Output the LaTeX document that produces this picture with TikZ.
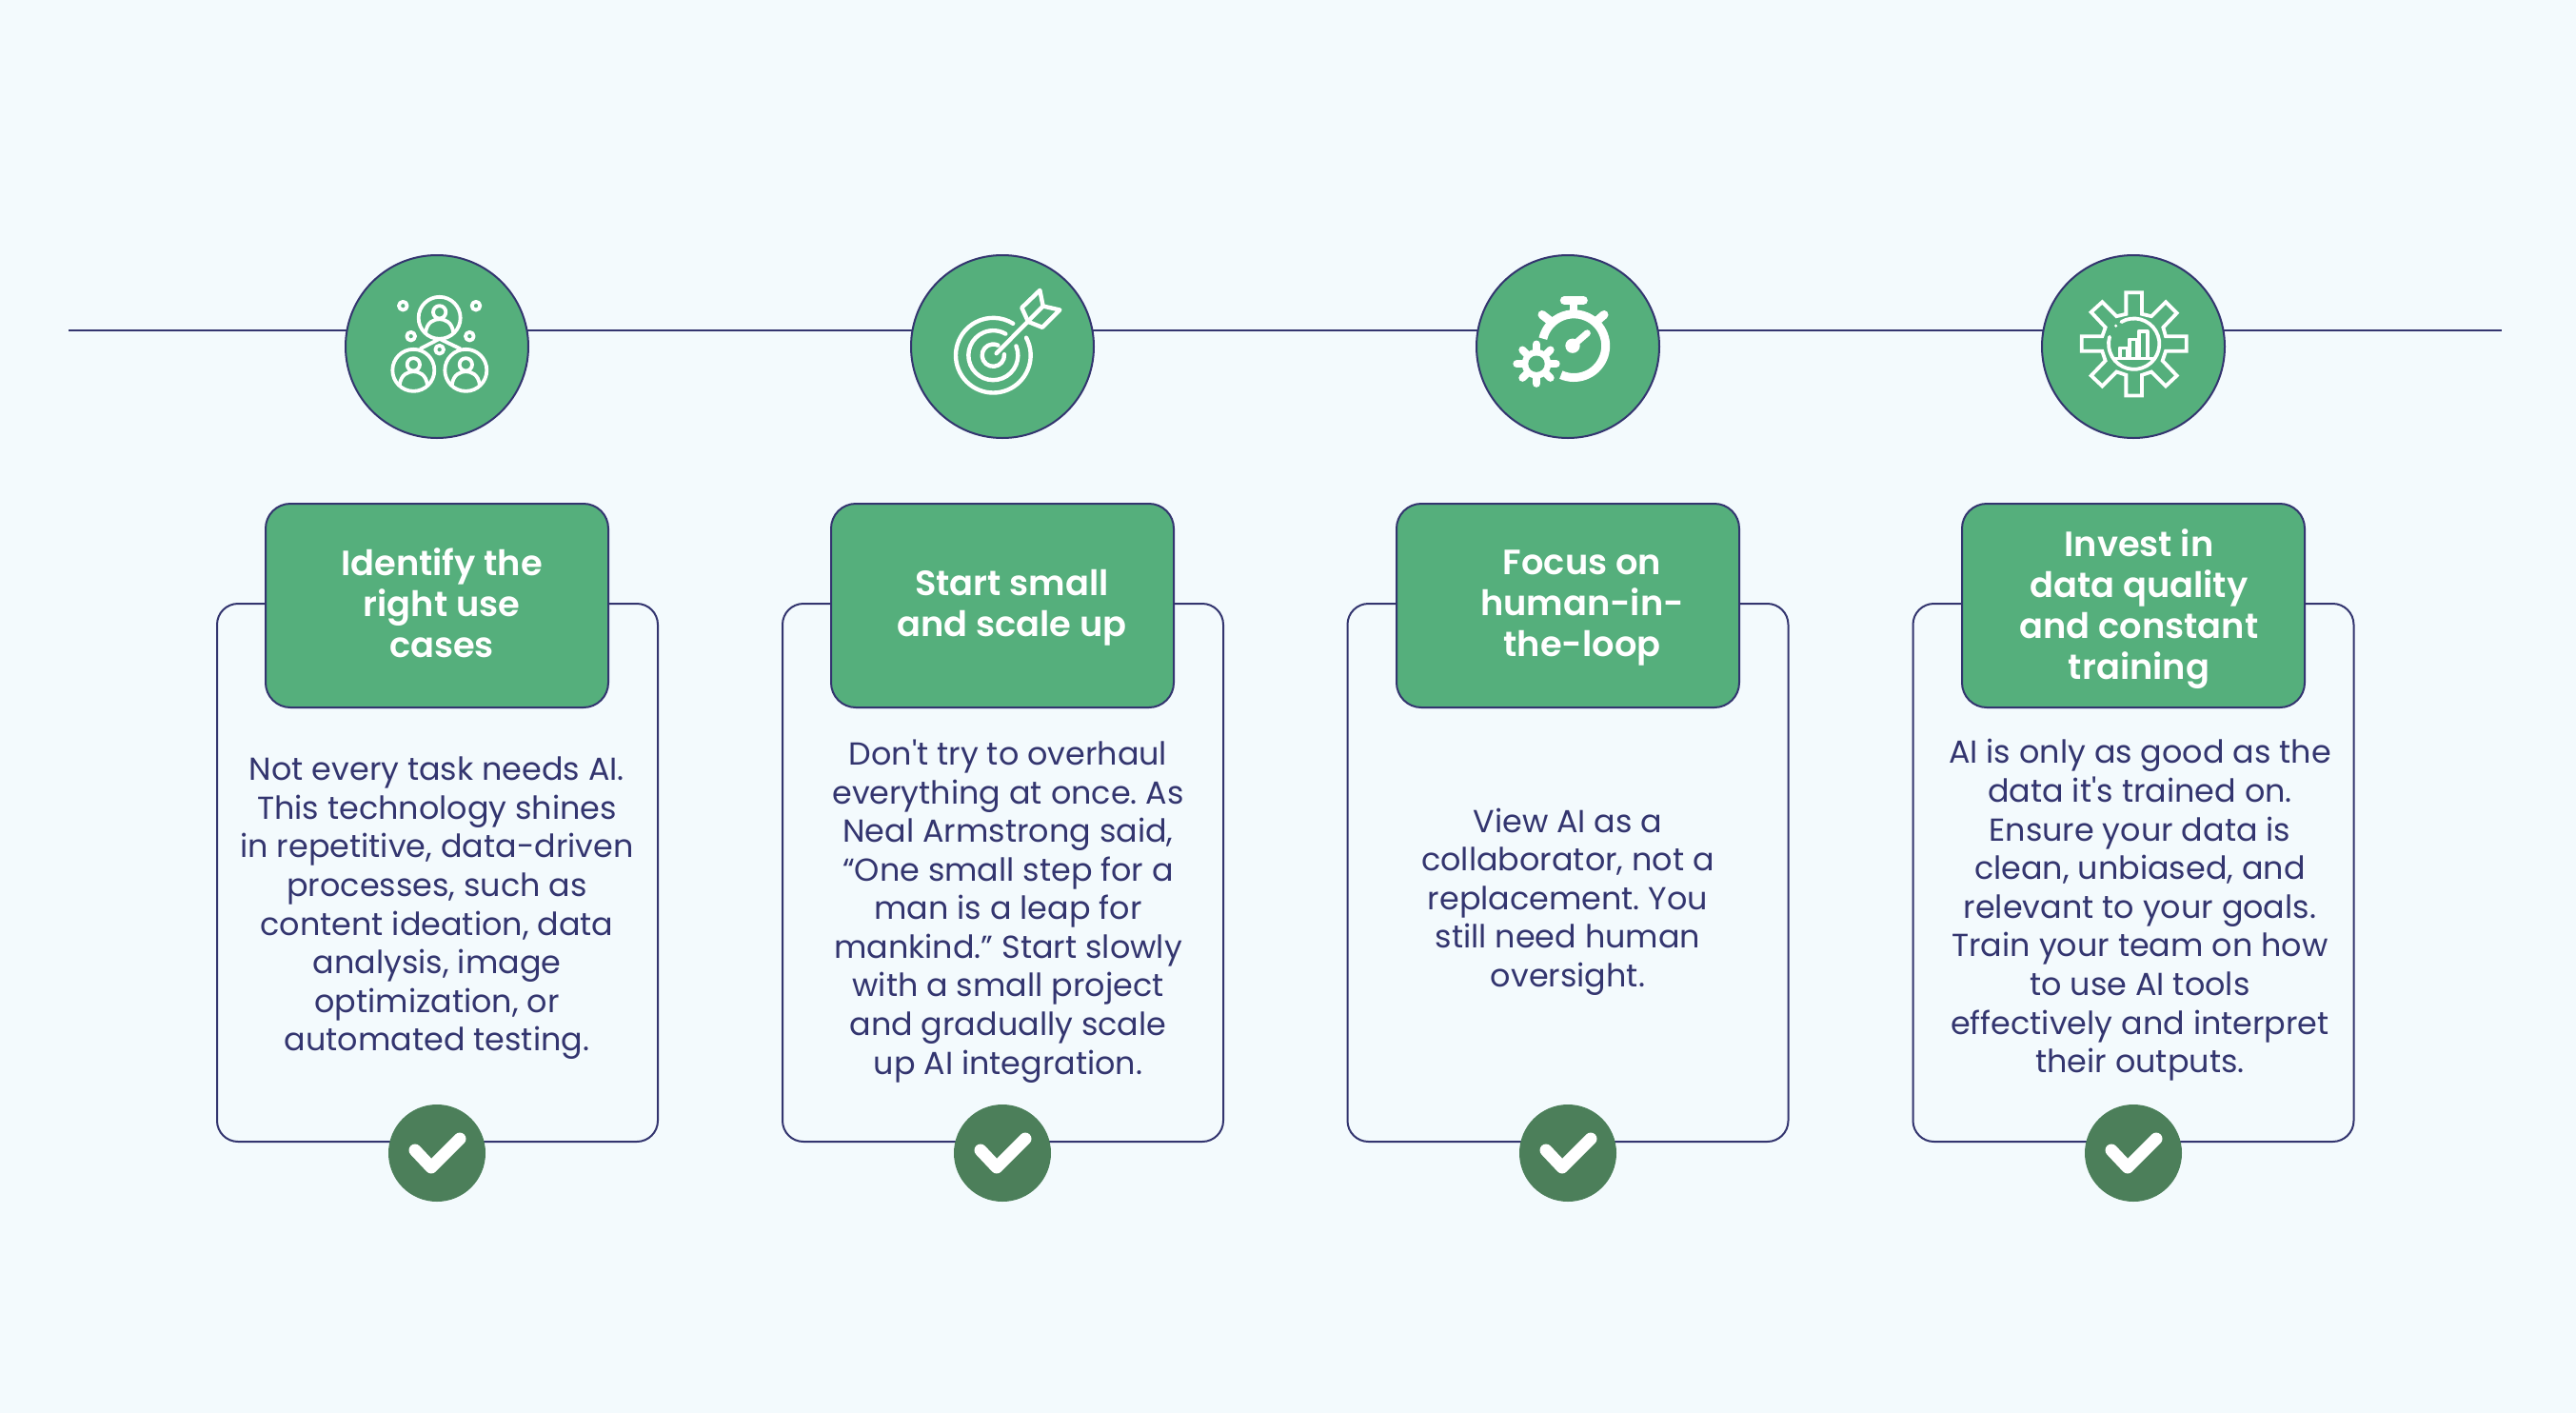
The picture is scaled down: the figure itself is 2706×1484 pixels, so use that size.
\documentclass[tikz,border=0pt]{standalone}
\usepackage{fontspec}
\setmainfont{Poppins}[Ligatures=TeXOff]
\newfontfamily\titlefont{Poppins SemiBold}[Ligatures=TeXOff]
\definecolor{pagebg}{HTML}{F3FAFD}
\definecolor{navy}{HTML}{33356F}
\definecolor{leaf}{HTML}{55AF7C}
\definecolor{pine}{HTML}{4C7F5A}
\tikzset{
  card/.style={draw=navy, line width=1pt, rounded corners=11pt, minimum width=231.5pt, minimum height=282.5pt, inner sep=0pt},
  badge/.style={circle, draw=navy, line width=1pt, fill=leaf, minimum size=192pt*0.5, inner sep=0pt},
  titlebox/.style={draw=navy, line width=1pt, fill=leaf, rounded corners=13pt, minimum width=180pt, minimum height=107pt, inner sep=0pt},
  titletext/.style={text=white, align=center, inner sep=0pt, font=\frenchspacing\fontsize{18.4}{21.5}\titlefont},
  bodytext/.style={text=navy, align=center, inner sep=0pt, font=\frenchspacing\fontsize{16.7}{20.3}\selectfont},
  checkdot/.style={circle, fill=pine, minimum size=51pt, inner sep=0pt},
  glyph/.style={draw=white, line width=1.9pt, line cap=round, line join=round},
  solidglyph/.style={draw=white, line cap=round, line join=round},
  tick/.pic={\draw[white, line width=6.5pt, line cap=round, line join=round] (-23,-3) -- (-6,15) -- (24,-15);},
  person/.pic={
    \begin{scope}[scale=1/3]
    \draw[glyph] (0,0) circle (66);
    \draw[glyph] (0,-18) circle (20);
    \draw[glyph] (-44,48) .. controls (-40,12) and (-16,4) .. (0,4) .. controls (16,4) and (40,12) .. (44,48);
    \end{scope}
  }
}
\begin{document}
\begin{tikzpicture}[x=0.5pt,y=-0.5pt]
  \fill[pagebg] (0,0) rectangle (2706,1484);

  \coordinate (lineL) at (72,346.5);
  \coordinate (lineR) at (2628,346.5);
  \draw[navy, line width=1pt] (lineL) -- (lineR);

  % upper circles
  \node[badge] (badgeA) at (459,364) {};
  \node[badge] (badgeB) at (1053,364) {};
  \node[badge] (badgeC) at (1647,364) {};
  \node[badge] (badgeD) at (2241,364) {};

  % cards
  \node[card] (cardA) at (459.5,916.5) {};
  \node[card] (cardB) at (1053.5,916.5) {};
  \node[card] (cardC) at (1647,916.5) {};
  \node[card] (cardD) at (2241,916.5) {};

  \node[titlebox] (boxA) at (459,636) {};
  \node[titlebox] (boxB) at (1053,636) {};
  \node[titlebox] (boxC) at (1647,636) {};
  \node[titlebox] (boxD) at (2241,636) {};

  \node[titletext] (titleA) at (464,633) {Identify the\\right use\\cases};
  \node[titletext] (titleB) at (1063,638) {Start small\\and scale up};
  \node[titletext] (titleC) at (1662,639) {Focus on\\human-in-\\the-loop};
  \node[titletext] (titleD) at (2247,640) {Invest in\\data quality\\and constant\\training};

  \node[bodytext] (textA) at (459,954) {Not every task needs AI.\\This technology shines\\in repetitive, data-driven\\processes, such as\\content ideation, data\\analysis, image\\optimization, or\\automated testing.};
  \node[bodytext] (textB) at (1059,957) {Don't try to overhaul\\everything at once. As\\Neal Armstrong said,\\“One small step for a\\man is a leap for\\mankind.” Start slowly\\with a small project\\and gradually scale\\up AI integration.};
  \node[bodytext] (textC) at (1647,947) {View AI as a\\collaborator, not a\\replacement. You\\still need human\\oversight.};
  \node[bodytext] (textD) at (2248,956) {AI is only as good as the\\data it's trained on.\\Ensure your data is\\clean, unbiased, and\\relevant to your goals.\\Train your team on how\\to use AI tools\\effectively and interpret\\their outputs.};

  % checks
  \node[checkdot] (checkA) at (459,1211) {};
  \node[checkdot] (checkB) at (1053,1211) {};
  \node[checkdot] (checkC) at (1647,1211) {};
  \node[checkdot] (checkD) at (2241,1211) {};
  \pic at (checkA) {tick};
  \pic at (checkB) {tick};
  \pic at (checkC) {tick};
  \pic at (checkD) {tick};

  % people icon
  \begin{scope}[shift={(340,250.5)}, scale=1/3]
    \pic at (365,250) {person};
    \pic at (283,415) {person};
    \pic at (448,415) {person};
    \draw[glyph] (250,212) circle (13);
    \draw[glyph] (480,212) circle (13);
    \draw[glyph] (275,308) circle (13);
    \draw[glyph] (460,308) circle (13);
    \draw[glyph] (365,350) circle (13);
    \draw[glyph] (305,347) -- (365,316) -- (430,347);
  \end{scope}

  % target icon
  \begin{scope}[shift={(935,250.5)}, scale=1/3]
    \draw[glyph, line width=2.2pt] (325,368) ++(-28:118) arc (-28:302:118);
    \draw[glyph, line width=2.2pt] (325,368) ++(-22:78) arc (-22:300:78);
    \draw[glyph, line width=2.2pt] (325,368) ++(-5:35) arc (-5:296:35);
    \draw[glyph, line width=2.2pt] (335,362) -- (482,213);
    \draw[glyph, line width=2.2pt] (415,218) -- (472,163) -- (482,213) -- (535,225) -- (480,280) -- (435,262) -- cycle;
  \end{scope}

  % stopwatch icon
  \begin{scope}[shift={(1530,250.5)}, scale=1/3]
    \draw[white, line width=4.5pt] (370,338) ++(114:100) arc (114:-167:100);
    \draw[solidglyph, line width=4.5pt] (340,195) -- (400,195);
    \draw[solidglyph, line width=4pt] (370,195) -- (370,235);
    \draw[solidglyph, line width=4.5pt] (270,240) -- (298,262);
    \draw[solidglyph, line width=4.5pt] (465,240) -- (440,262);
    \fill[white] (366,338) circle (23);
    \draw[solidglyph, line width=3.5pt] (366,338) -- (412,298);
    \draw[solidglyph, line width=4pt] (190,395) -- (314,395);
    \draw[solidglyph, line width=4pt] (252,333) -- (252,457);
    \draw[solidglyph, line width=4pt] (208,351) -- (296,439);
    \draw[solidglyph, line width=4pt] (208,439) -- (296,351);
    \fill[white] (252,395) circle (46);
    \fill[leaf] (252,395) circle (26);
  \end{scope}

  % gear icon
  \begin{scope}[shift={(2125,250.5)}, scale=1/3]
    \draw[glyph, line cap=butt, line join=miter] (325,170) -- (375,170) -- (375,238) -- (405,245) -- (450,200) -- (485,235) -- (442,280) -- (450,308) -- (515,308) -- (515,355) -- (450,355) -- (440,385) -- (485,432) -- (450,465) -- (405,420) -- (375,430) -- (375,495) -- (325,495) -- (325,430) -- (295,420) -- (250,465) -- (215,432) -- (260,385) -- (250,355) -- (185,355) -- (185,308) -- (250,308) -- (260,280) -- (215,232) -- (250,200) -- (295,245) -- (325,238) -- cycle;
    \draw[glyph] (350,332) ++(-120:80) arc (-120:196:80);
    \fill[white] (293,275) circle (5);
    \draw[glyph] (305,375) -- (305,345) -- (330,345) -- (330,375);
    \draw[glyph] (335,375) -- (335,318) -- (360,318) -- (360,375);
    \draw[glyph] (365,375) -- (365,292) -- (392,292) -- (392,375);
    \draw[glyph] (290,378) -- (410,378);
  \end{scope}
\end{tikzpicture}
\end{document}
